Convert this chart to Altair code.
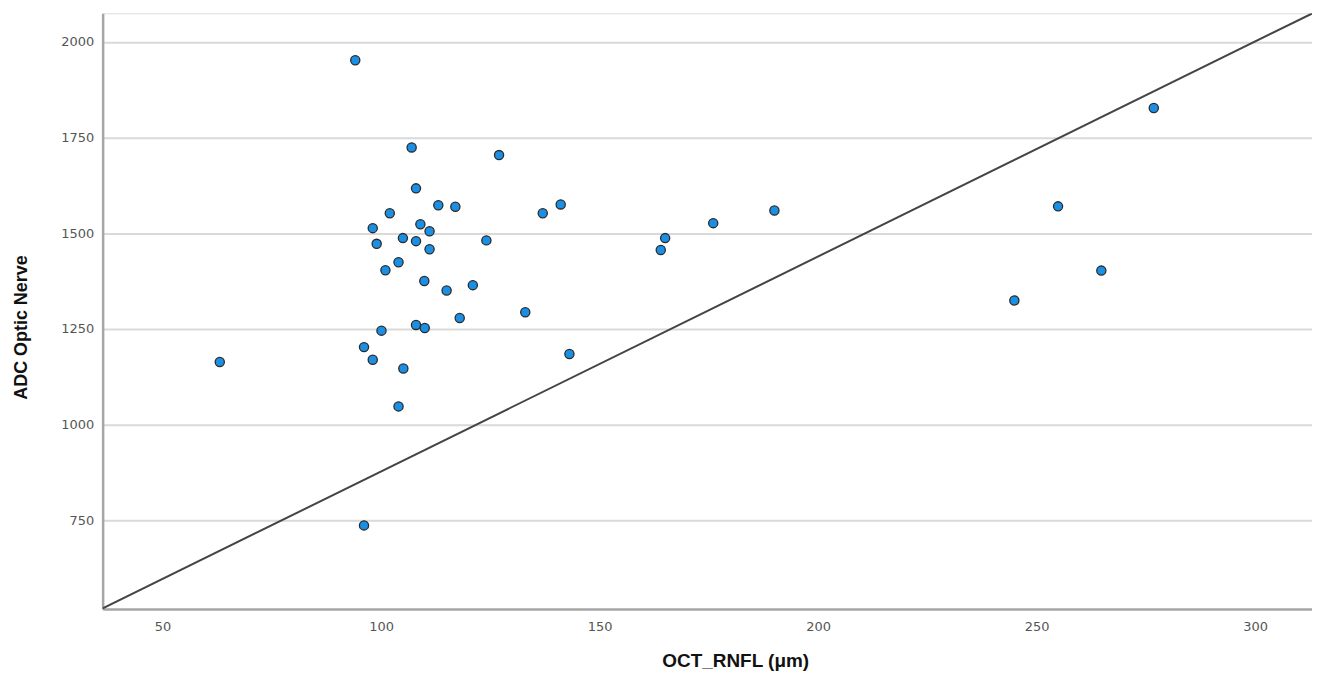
import altair as alt
import pandas as pd

# Scatter points (OCT_RNFL in µm, ADC Optic Nerve)
oct_rnfl = [94.1, 107.0, 127.0, 108.0, 113.1, 117.0, 137.0, 141.1, 102.0, 98.1,
            109.0, 111.1, 99.0, 105.0, 108.0, 111.1, 124.1, 104.0, 101.0, 109.9,
            115.0, 121.0, 133.0, 118.0, 108.0, 110.0, 100.1, 96.1, 98.1, 105.1,
            143.1, 104.0, 63.1, 96.1, 165.0, 164.0, 176.0, 190.0, 276.8, 254.9,
            264.8, 244.9]
adc_optic = [1952, 1724, 1704, 1617, 1573, 1569, 1552, 1575, 1552, 1513,
             1523, 1505, 1472, 1487, 1479, 1458, 1481, 1424, 1403, 1375,
             1350, 1364, 1293, 1278, 1260, 1252, 1245, 1202, 1169, 1146,
             1184, 1047, 1163, 736, 1487, 1456, 1526, 1559, 1827, 1570,
             1402, 1324]

# Reference line end points
line_x = [36.3, 313.0]
line_y = [519.0, 2074.0]

x_ticks = [50, 100, 150, 200, 250, 300]
y_ticks = [750, 1000, 1250, 1500, 1750, 2000]

pts = pd.DataFrame({"x": oct_rnfl, "y": adc_optic})
ln = pd.DataFrame({"x": line_x, "y": line_y})

x_scale = alt.Scale(domain=[36.3, 313.0], nice=False, zero=False)
y_scale = alt.Scale(domain=[517.5, 2074.7], nice=False, zero=False)

x_axis = alt.Axis(
    title="OCT_RNFL (μm)", values=x_ticks, grid=False, ticks=False, format="d",
    labelFont="DejaVu Sans", labelFontSize=13, labelColor="#555555",
    labelPadding=12, domainColor="#a6a6a6", domainWidth=2.5,
    titleFont="Liberation Sans", titleFontSize=19, titleFontWeight="bold",
    titleColor="#111111", titleX=635, titleY=52, titleAlign="center",
    titleBaseline="middle", labelFlush=False,
)
y_axis = alt.Axis(
    title="ADC Optic Nerve", values=y_ticks, grid=True, gridColor="#d9d9d9",
    gridWidth=2, ticks=False, format="d",
    labelFont="DejaVu Sans", labelFontSize=13, labelColor="#555555",
    labelPadding=9, domainColor="#a6a6a6", domainWidth=2.5,
    titleFont="Liberation Sans", titleFontSize=18, titleFontWeight="bold",
    titleColor="#111111", titleX=-81, titleY=315, titleAngle=270,
    titleAlign="center", titleBaseline="middle", labelFlush=False,
)

line = alt.Chart(ln).mark_line(color="#444444", strokeWidth=2, clip=True).encode(
    x=alt.X("x:Q", scale=x_scale, axis=x_axis),
    y=alt.Y("y:Q", scale=y_scale, axis=y_axis),
)

points = alt.Chart(pts).mark_point(
    shape="circle", filled=True, size=85, fill="#1a8fe3", stroke="#2b2b2b",
    strokeWidth=1.3, opacity=1,
).encode(
    x=alt.X("x:Q", scale=x_scale),
    y=alt.Y("y:Q", scale=y_scale),
)

chart = alt.layer(line, points).properties(
    width=1214, height=598,
    autosize=alt.AutoSizeParams(type="none"),
    padding={"left": 95, "top": 4, "right": 0, "bottom": 66},
).configure_view(stroke=None).configure(background="white")

chart.save("out.html", embed_options={"renderer": "svg", "actions": False})
